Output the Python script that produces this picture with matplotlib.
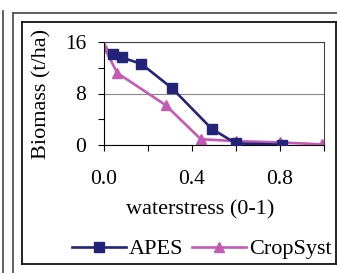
import matplotlib.pyplot as plt
from matplotlib.lines import Line2D
from matplotlib.ticker import MultipleLocator

# data
apes_x = [0.04, 0.08, 0.17, 0.31, 0.49, 0.60, 0.81]
apes_y = [14.1, 13.6, 12.6, 8.8, 2.5, 0.25, 0.05]
crop_x = [0.0, 0.06, 0.28, 0.44, 0.60, 0.80, 0.99]
crop_y = [15.2, 11.2, 6.2, 0.9, 0.6, 0.4, 0.1]

W, H = 337, 273
plt.rcParams['font.family'] = ['Liberation Serif', 'DejaVu Serif']
fig = plt.figure(figsize=(W / 100, H / 100), dpi=100)

def px(x0, y0, x1, y1, **kw):
    fig.add_artist(Line2D([x0 / W, x1 / W], [1 - y0 / H, 1 - y1 / H],
                          transform=fig.transFigure, **kw))

# frames around the chart
px(3, 11, 3, 273, color='#555555', lw=1.3)
px(13, 13, 13, 273, color='#555555', lw=1.3)
px(13, 13, 337, 13, color='#555555', lw=1.3)
px(22, 22, 22, 264, color='#111111', lw=1.3)
px(22, 22, 336, 22, color='#111111', lw=1.3)
px(336, 22, 336, 264, color='#111111', lw=1.3)
px(22, 264, 336, 264, color='#111111', lw=1.3)

ax = fig.add_axes([104 / W, 1 - 145 / H, 220 / W, 103 / H])
ax.plot(apes_x, apes_y, color='#232378', lw=1.9, marker='s', ms=7.3,
        label='APES', zorder=3)
ax.plot(crop_x, crop_y, color='#C45AB4', lw=1.9, marker='^', ms=7.3,
        label='CropSyst', zorder=2)

ax.set_xlim(0, 1)
ax.set_ylim(0, 16)
ax.xaxis.set_major_locator(MultipleLocator(0.4))
ax.xaxis.set_minor_locator(MultipleLocator(0.2))
ax.yaxis.set_major_locator(MultipleLocator(8))
ax.yaxis.set_minor_locator(MultipleLocator(4))
ax.set_xticklabels([f'{v:.1f}' for v in ax.get_xticks()])
ax.tick_params(which='both', direction='out', length=4, width=0.8,
               labelsize=15.5)
ax.tick_params(axis='x', pad=14)
ax.tick_params(axis='y', pad=9)
ax.grid(axis='y', which='major', color='#888888', lw=0.8)
for s in ['top', 'right']:
    ax.spines[s].set_color('#444444')
    ax.spines[s].set_linewidth(0.8)

ax.set_xlabel('waterstress (0-1)', fontsize=16)
ax.set_ylabel('Biomass (t/ha)', fontsize=16)
ax.xaxis.set_label_coords((200 - 104) / 220, 1 - (210 - 42) / 103, ax.transAxes)
ax.xaxis.label.set_va('center')
ax.yaxis.set_label_coords((42 - 104) / 220, 0.5, ax.transAxes)
ax.yaxis.label.set_va('center')

ax.legend(loc='center', bbox_to_anchor=(202 / W, 1 - 249 / H),
          bbox_transform=fig.transFigure, ncol=2, frameon=False,
          fontsize=16, handlelength=2.4, handletextpad=0.15,
          columnspacing=0.4, markerscale=0.9, borderpad=0)

fig.savefig('out.png', dpi=100)
